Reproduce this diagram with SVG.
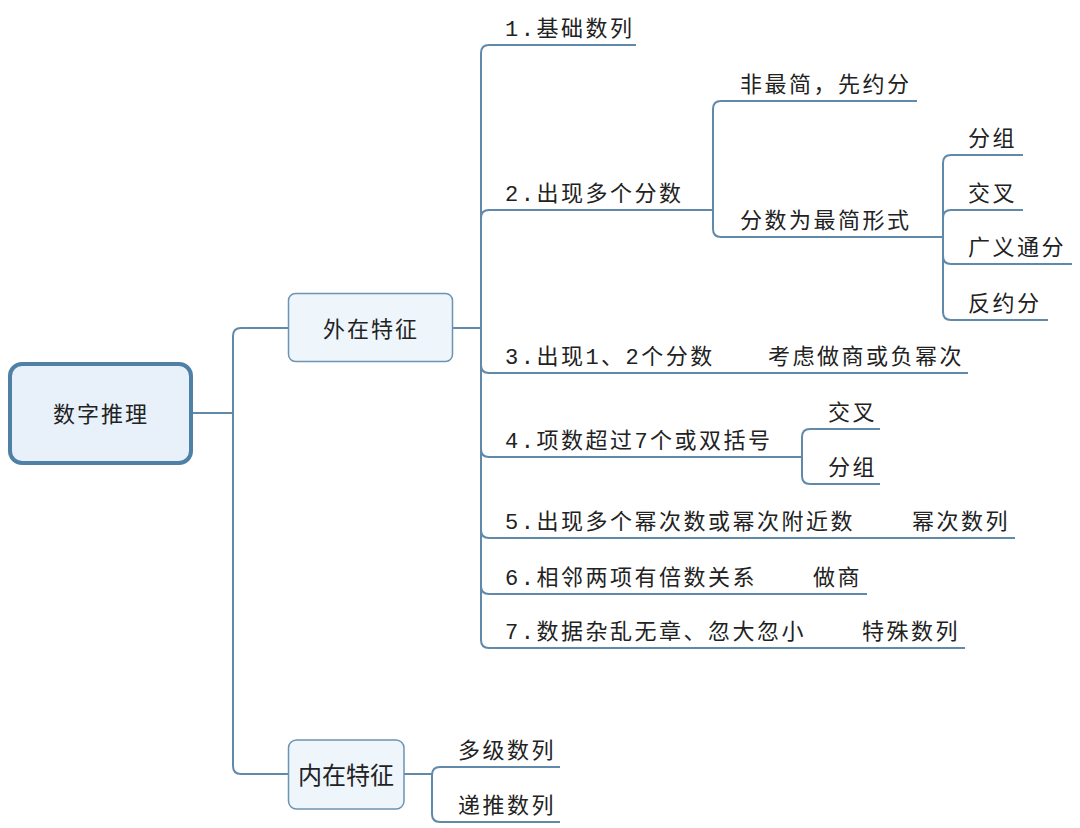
<svg xmlns="http://www.w3.org/2000/svg" width="1080" height="828" viewBox="0 0 1080 828">
<style>
.t{font-family:"Liberation Mono","Noto Sans CJK SC",monospace;font-size:22px;fill:#222;letter-spacing:2.5px}
.s{font-family:"Noto Sans CJK SC","Noto Sans",sans-serif;font-size:24px;fill:#222}
.l{fill:none;stroke:#6189aa;stroke-width:2}
.box{fill:#eef5fb;stroke:#6e93b0;stroke-width:1.5}
</style>
<rect width="1080" height="828" fill="#fff"/>
<g id="connectors" class="l">
<path d="M191,413 H233"/>
<path d="M233,413 V336 Q233,328 241,328 H289"/>
<path d="M233,413 V766 Q233,774 241,774 H289"/>
<path d="M453,328 H481"/>
<path d="M481,328 V53 Q481,45 489,45 H636"/>
<path d="M481,328 V218 Q481,210 489,210 H713"/>
<path d="M481,328 V365 Q481,373 489,373 H968"/>
<path d="M481,328 V449 Q481,457 489,457 H802"/>
<path d="M481,328 V530 Q481,538 489,538 H1015"/>
<path d="M481,328 V586 Q481,594 489,594 H867"/>
<path d="M481,328 V640 Q481,648 489,648 H965"/>
<path d="M713,210 V109 Q713,101 721,101 H917"/>
<path d="M713,210 V229 Q713,237 721,237 H943"/>
<path d="M943,237 V163 Q943,155 951,155 H1023"/>
<path d="M943,237 V218 Q943,210 951,210 H1023"/>
<path d="M943,237 V256 Q943,264 951,264 H1072"/>
<path d="M943,237 V312 Q943,320 951,320 H1048"/>
<path d="M802,457 V437 Q802,429 810,429 H880"/>
<path d="M802,457 V476 Q802,484 810,484 H880"/>
<path d="M404,774 H432"/>
<path d="M432,775 Q432,767 440,767 H560"/>
<path d="M432,774 V814 Q432,822 440,822 H560"/>
</g>
<g id="root">
<rect x="10" y="364" width="181" height="99" rx="12" fill="#e8f1f9" stroke="#4f80a6" stroke-width="4"/>
<text class="t" x="53" y="422" style="letter-spacing:2px">数字推理</text>
</g>
<g id="outer">
<rect class="box" x="288.5" y="293.5" width="164" height="68" rx="7"/>
<text class="t" x="323" y="336.5" style="letter-spacing:2px">外在特征</text>
</g>
<g id="inner">
<rect class="box" x="288.5" y="740" width="115.5" height="69" rx="8"/>
<text class="s" x="298" y="784">内在特征</text>
</g>
<g id="n1"><text class="t" x="505" y="36">1.基础数列</text></g>
<g id="n2"><text class="t" x="505" y="201">2.出现多个分数</text></g>
<g id="n2a"><text class="t" x="740" y="92">非最简，先约分</text></g>
<g id="n2b"><text class="t" x="740" y="228">分数为最简形式</text></g>
<g id="n2b1"><text class="t" x="968" y="146">分组</text></g>
<g id="n2b2"><text class="t" x="968" y="201">交叉</text></g>
<g id="n2b3"><text class="t" x="968" y="255">广义通分</text></g>
<g id="n2b4"><text class="t" x="968" y="311">反约分</text></g>
<g id="n3"><text class="t" x="505" y="364">3.出现1、2个分数</text></g>
<g id="n3a"><text class="t" x="768" y="364">考虑做商或负幂次</text></g>
<g id="n4"><text class="t" x="505" y="448">4.项数超过7个或双括号</text></g>
<g id="n4a"><text class="t" x="828" y="420">交叉</text></g>
<g id="n4b"><text class="t" x="828" y="475">分组</text></g>
<g id="n5"><text class="t" x="505" y="529">5.出现多个幂次数或幂次附近数</text></g>
<g id="n5a"><text class="t" x="912" y="529">幂次数列</text></g>
<g id="n6"><text class="t" x="505" y="585">6.相邻两项有倍数关系</text></g>
<g id="n6a"><text class="t" x="813" y="585">做商</text></g>
<g id="n7"><text class="t" x="505" y="639">7.数据杂乱无章、忽大忽小</text></g>
<g id="n7a"><text class="t" x="862" y="639">特殊数列</text></g>
<g id="i1"><text class="t" x="458" y="758">多级数列</text></g>
<g id="i2"><text class="t" x="458" y="813">递推数列</text></g>
</svg>
